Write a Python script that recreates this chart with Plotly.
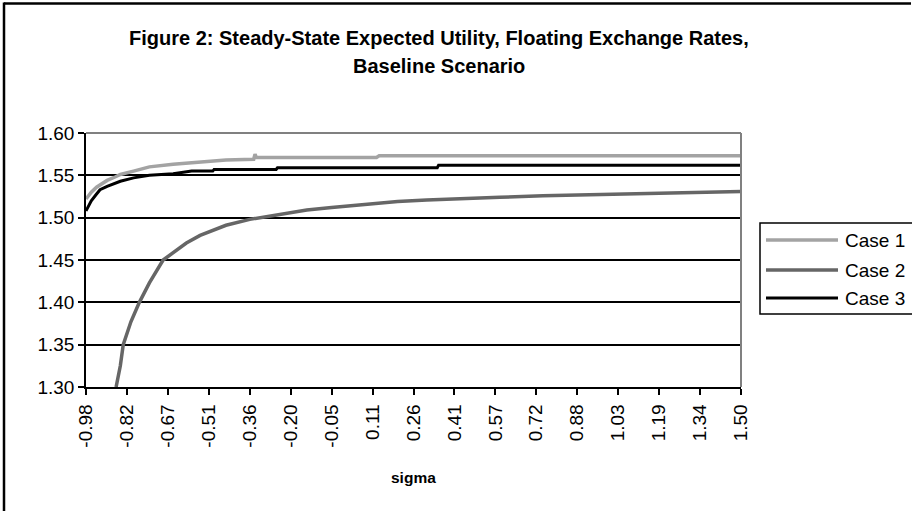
import plotly.graph_objects as go

# ---------------- data ----------------
tick_vals = [-0.98, -0.825, -0.67, -0.515, -0.36, -0.205, -0.05, 0.105, 0.26,
             0.415, 0.57, 0.725, 0.88, 1.035, 1.19, 1.345, 1.50]
tick_text = ["-0.98", "-0.82", "-0.67", "-0.51", "-0.36", "-0.20", "-0.05", "0.11", "0.26",
             "0.41", "0.57", "0.72", "0.88", "1.03", "1.19", "1.34", "1.50"]
y_tick_vals = [1.30, 1.35, 1.40, 1.45, 1.50, 1.55, 1.60]
y_tick_text = ["1.30", "1.35", "1.40", "1.45", "1.50", "1.55", "1.60"]

case1_sigma = [-0.98, -0.96, -0.94, -0.927, -0.90, -0.87, -0.85, -0.80, -0.74, -0.65,
               -0.55, -0.45, -0.345, -0.34, -0.335, 0.12, 0.13, 0.60, 1.00, 1.50]
case1_vals = [1.522, 1.530, 1.536, 1.539, 1.544, 1.548, 1.551, 1.555, 1.560, 1.563,
              1.566, 1.568, 1.569, 1.575, 1.571, 1.571, 1.573, 1.573, 1.573, 1.573]

case2_sigma = [-0.866, -0.85, -0.839, -0.81, -0.778, -0.74, -0.688, -0.65, -0.60, -0.548,
               -0.50, -0.45, -0.36, -0.25, -0.144, -0.05, 0.083, 0.20, 0.31, 0.45,
               0.587, 0.75, 0.90, 1.05, 1.20, 1.35, 1.50]
case2_vals = [1.300, 1.325, 1.350, 1.377, 1.400, 1.423, 1.450, 1.459, 1.470, 1.479,
              1.485, 1.491, 1.498, 1.504, 1.509, 1.512, 1.516, 1.519, 1.521, 1.523,
              1.524, 1.526, 1.527, 1.528, 1.529, 1.530, 1.531]

case3_sigma = [-0.98, -0.96, -0.94, -0.927, -0.90, -0.85, -0.80, -0.74, -0.65, -0.58,
               -0.50, -0.495, -0.26, -0.255, 0.35, 0.355, 0.90, 1.50]
case3_vals = [1.508, 1.520, 1.528, 1.533, 1.537, 1.543, 1.547, 1.550, 1.552, 1.555,
              1.555, 1.557, 1.557, 1.559, 1.559, 1.562, 1.562, 1.562]

series_names = ["Case 1", "Case 2", "Case 3"]
series_colors = ["#a3a3a3", "#666666", "#000000"]
series_widths = [3.5, 3.5, 3]

title_lines = ["Figure 2: Steady-State Expected Utility, Floating Exchange Rates,",
               "Baseline Scenario"]
x_title = "sigma"

FONT = "Liberation Sans, Arial, sans-serif"

fig = go.Figure()
for name, xs, ys, col, w in zip(series_names,
                                [case1_sigma, case2_sigma, case3_sigma],
                                [case1_vals, case2_vals, case3_vals],
                                series_colors, series_widths):
    fig.add_trace(go.Scatter(x=xs, y=ys, mode="lines", name=name,
                             line=dict(color=col, width=w), showlegend=False))

# plot geometry (pixels)
L, R, T, B = 86, 171, 133, 124
W, H = 912, 511
pw, ph = W - L - R, H - T - B
def px(x):
    return (x - L) / pw
def py(y):
    return (H - B - y) / ph

shapes = []
# outer chart frame (cropped at right/bottom): left and top edges
shapes.append(dict(type="line", xref="paper", yref="paper",
                   x0=px(4), x1=px(4), y0=py(520), y1=py(2.5),
                   line=dict(color="black", width=2.5), layer="above"))
shapes.append(dict(type="line", xref="paper", yref="paper",
                   x0=px(4), x1=px(911), y0=py(3.5), y1=py(3.5),
                   line=dict(color="black", width=2.5), layer="above"))
# plot area border (top & right grey)
shapes.append(dict(type="line", xref="paper", yref="paper", x0=0, x1=1, y0=1, y1=1,
                   line=dict(color="#808080", width=2), layer="above"))
shapes.append(dict(type="line", xref="paper", yref="paper", x0=1, x1=1, y0=0, y1=1,
                   line=dict(color="#808080", width=2), layer="above"))

# manual legend
leg_top, leg_bot, leg_left = 223, 314, 760
shapes.append(dict(type="rect", xref="paper", yref="paper",
                   x0=px(leg_left), x1=px(960), y0=py(leg_bot), y1=py(leg_top),
                   line=dict(color="black", width=1.5), fillcolor="white", layer="above"))
leg_y = [240, 270, 298]
annotations = []
for name, col, w, yy in zip(series_names, series_colors, series_widths, leg_y):
    shapes.append(dict(type="line", xref="paper", yref="paper",
                       x0=px(766), x1=px(838), y0=py(yy), y1=py(yy),
                       line=dict(color=col, width=w), layer="above"))
    annotations.append(dict(xref="paper", yref="paper", x=px(843), y=py(yy),
                            text=name, showarrow=False, xanchor="left", yanchor="middle",
                            font=dict(family=FONT, size=19, color="black")))

# title (two lines)
for txt, yy in zip(title_lines, [38, 66]):
    annotations.append(dict(xref="paper", yref="paper", x=px(439), y=py(yy),
                            text="<b>" + txt + "</b>",
                            showarrow=False, xanchor="center", yanchor="middle",
                            font=dict(family=FONT, size=20, color="black")))
# x axis title
annotations.append(dict(xref="paper", yref="paper", x=0.5, y=py(477),
                        text="<b>" + x_title + "</b>", showarrow=False,
                        xanchor="center", yanchor="middle",
                        font=dict(family=FONT, size=15.5, color="black")))

fig.update_layout(
    width=W, height=H,
    margin=dict(l=L, r=R, t=T, b=B),
    paper_bgcolor="white", plot_bgcolor="white",
    shapes=shapes, annotations=annotations,
    showlegend=False,
    font=dict(family=FONT, size=16, color="black"),
)
fig.update_xaxes(range=[-0.98, 1.50], tickvals=tick_vals, ticktext=tick_text,
                 tickangle=-90, ticks="outside", ticklen=6, tickcolor="black", tickwidth=1.5,
                 ticklabelstandoff=2,
                 showgrid=False, zeroline=False, showline=True, linecolor="black", linewidth=1.5,
                 tickfont=dict(family=FONT, size=19, color="black"))
fig.update_yaxes(range=[1.30, 1.60], tickvals=y_tick_vals, ticktext=y_tick_text,
                 ticks="outside", ticklen=6, tickcolor="black", tickwidth=1.5,
                 showgrid=True, gridcolor="black", gridwidth=1.5, zeroline=False,
                 showline=True, linecolor="black", linewidth=1.5,
                 tickfont=dict(family=FONT, size=19, color="black"))

fig.write_html("out.html",
               config={"displayModeBar": False},
               post_script="document.body.style.margin='0';document.body.style.padding='0';")
